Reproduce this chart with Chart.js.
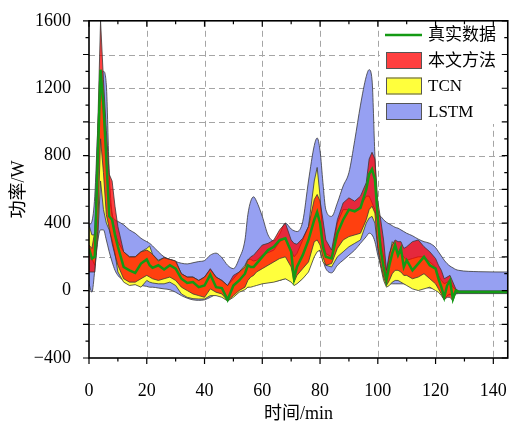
<!DOCTYPE html>
<html>
<head>
<meta charset="utf-8">
<script src="https://cdn.jsdelivr.net/npm/chart.js@4.4.1/dist/chart.umd.min.js"></script>
<style>
  html, body { margin: 0; padding: 0; background: #fff; }
  #wrap { width: 521px; height: 425px; }
</style>
</head>
<body>
<div id="wrap"><canvas id="chart" width="521" height="425"></canvas></div>
<script>
// ─── Data ────────────────────────────────────────
const seriesNames = ["真实数据", "本文方法", "TCN", "LSTM"];

const times = [
  0, 1, 2, 3, 4, 5, 6, 7, 8, 9, 10,
  12, 14, 16, 18, 20, 21, 22, 24, 26, 28, 30,
  32, 34, 36, 38, 40, 42, 44, 46, 48, 50,
  52, 54, 55, 56, 57, 58, 60, 62, 64, 66, 68, 70, 71, 72, 74,
  76, 78, 79, 80, 81, 82, 84, 86, 88, 90, 92, 94, 96, 97, 98, 99, 100,
  101, 102, 103, 104, 105, 106, 107, 108, 109, 110,
  112, 114, 116, 118, 120, 121, 122, 123, 124, 125, 126, 127, 128, 135, 145
];

const truePower = [
  250, 190, 200, 750, 1310, 1100, 780, 440, 420, 330, 260,
  140, 120, 105, 160, 185, 150, 135, 150, 125, 150, 130,
  70, 45, 50, 20, 30, 95, 20, 15, -55, 30,
  60, 100, 150, 140, 140, 160, 200, 240, 260, 300, 310, 230, 70, 140, 210,
  300, 420, 465, 400, 260, 200, 190, 340, 420, 480, 470, 490, 600, 690, 720, 660, 430,
  240, 140, 60, 150, 220, 270, 210, 250, 140, 180,
  120, 160, 200, 150, 130, 70, 20, -40, 30, 60, -50, 0, -8, -8, -8
];

// 本文方法 interval
const oursHigh = [
  270, 250, 350, 950, 1600, 1250, 950, 690, 650, 500, 380,
  230, 200, 200, 230, 240, 230, 215, 175, 195, 185, 175,
  100, 80, 80, 60, 80, 130, 80, 60, 30, 90,
  110, 140, 180, 200, 210, 230, 270, 280, 300, 360, 400, 300, 280, 275, 310,
  380, 540, 570, 530, 420, 300, 240, 420, 520, 550, 530, 560, 640, 780, 820, 780, 530,
  420, 300, 120, 220, 270, 300, 290, 290, 250, 260,
  290, 300, 260, 230, 190, 150, 120, 70, 80, 90, 50, 10, -3, -3, -3
];
const oursLow = [
  110, 110, 110, 350, 900, 700, 450, 370, 280, 210, 150,
  70, 50, 50, 70, 90, 80, 70, 60, 70, 80, 60,
  20, 0, -20, -30, -40, 10, -10, -20, -60, -30,
  0, 20, 60, 80, 90, 110, 130, 150, 170, 190, 200, 140, 50, 90, 130,
  170, 290, 300, 270, 200, 150, 160, 250, 300, 320, 330, 340, 420, 480, 500, 460, 260,
  160, 80, 30, 60, 100, 120, 120, 110, 90, 90,
  70, 80, 100, 70, 40, 10, -20, -55, -40, -40, -60, -15, -13, -13, -13
];

// TCN interval
const tcnHigh = [
  390, 330, 330, 750, 1250, 1050, 750, 560, 440, 340, 290,
  230, 200, 200, 230, 250, 265, 215, 180, 195, 185, 175,
  100, 80, 80, 60, 80, 125, 80, 60, 30, 70,
  110, 150, 185, 185, 175, 180, 210, 225, 240, 290, 310, 240, 200, 220, 300,
  380, 650, 730, 560, 300, 220, 200, 400, 480, 480, 470, 500, 560, 560, 520, 480, 400,
  290, 200, 100, 200, 290, 270, 230, 220, 200, 180,
  190, 200, 200, 170, 140, 90, 60, 40, 50, 60, 20, 5, -3, -3, -3
];
const tcnLow = [
  240, 190, 150, 300, 650, 480, 400, 360, 300, 220, 110,
  50, 30, 35, 20, 60, 50, 45, 40, 40, 50, 30,
  -20, -40, -48, -50, -50, -30, -30, -40, -62, -40,
  -10, 5, 20, 20, 25, 30, 40, 45, 50, 60, 70, 50, 30, 40, 70,
  110, 200, 230, 240, 170, 150, 140, 200, 230, 260, 280, 300, 400, 430, 440, 400, 250,
  140, 60, 20, 30, 50, 60, 60, 50, 40, 30,
  10, 0, 10, 20, 0, -10, -30, -55, -30, -20, -30, -15, -13, -13, -13
];

// LSTM interval
const lstmHigh = [
  390, 410, 560, 950, 1260, 1300, 1220, 700, 460, 420, 410,
  390, 360, 340, 310, 290, 280, 265, 230, 200, 185, 172,
  162, 158, 165, 172, 178, 210, 222, 195, 150, 130,
  190, 300, 450, 530, 556, 530, 440, 330, 295, 335, 400, 365, 355, 350, 410,
  650, 860, 905, 830, 640, 480, 440, 520, 620, 700, 890, 1100, 1270, 1310, 1250, 800, 470,
  440, 420, 405, 395, 385, 375, 370, 360, 350, 340,
  325, 305, 290, 280, 255, 230, 205, 180, 160, 145, 135, 125, 120, 112, 110
];
const lstmLow = [
  40, -10, 120, 290, 360, 360, 300, 230, 170, 120, 90,
  60, 45, 40, 30, 25, 20, 20, 15, 10, 5, -10,
  -30, -45, -55, -58, -55, -40, -25, -35, -55, -30,
  0, 10, 20, 25, 30, 35, 45, 50, 55, 60, 70, 55, 40, 45, 75,
  140, 240, 250, 230, 180, 130, 105, 150, 180, 210, 240, 280, 320, 340, 330, 290, 210,
  150, 90, 50, 40, 40, 40, 40, 40, 40, 35,
  30, 25, 20, 15, 10, 0, -10, -20, -25, -25, -25, -20, -18, -18, -18
];

const xTicks = [0, 20, 40, 60, 80, 100, 120, 140];
const yTicks = [-400, 0, 400, 800, 1200, 1600];

// ─── Style ───────────────────────────────────────
const FONT   = '"Liberation Serif", "Noto Sans CJK SC", serif';
const GREEN  = "#149a14";
const RED    = "rgba(255, 0, 0, 0.75)";
const YELLOW = "#ffff3c";
const BLUE   = "rgb(150, 160, 242)";
const EDGE   = "#383838";

const pts = (vals) => vals.map((v, i) => ({ x: times[i], y: v }));

function band(values, color, order, isLow, smooth) {
    return {
        data: pts(values),
        borderColor: EDGE,
        borderWidth: 0.8,
        backgroundColor: color,
        pointRadius: 0,
        fill: isLow ? "-1" : false,
        order: order,
        cubicInterpolationMode: smooth ? "monotone" : "default",
        tension: 0
    };
}

// ─────────────────────────────────────────────────
//  Frame, grid, inward/outward ticks, legend
// ─────────────────────────────────────────────────
const decor = {
    id: "decor",
    beforeDatasetsDraw(chart) {
        const { ctx, chartArea: a, scales: { x, y } } = chart;
        ctx.save();
        ctx.strokeStyle = "#a5a5a5";
        ctx.lineWidth = 1;
        ctx.setLineDash([6, 4]);
        ctx.beginPath();
        for (let v = 20; v <= 140; v += 20) {
            const px = Math.round(x.getPixelForValue(v)) + 0.5;
            ctx.moveTo(px, a.top); ctx.lineTo(px, a.bottom);
        }
        for (let v = -200; v <= 1400; v += 200) {
            const py = Math.round(y.getPixelForValue(v)) + 0.5;
            ctx.moveTo(a.left, py); ctx.lineTo(a.right, py);
        }
        ctx.stroke();
        ctx.restore();
    },
    afterDatasetsDraw(chart) {
        const { ctx, chartArea: a, scales: { x, y } } = chart;
        ctx.save();

        // legend
        ctx.fillStyle = "#fff";
        ctx.fillRect(380, 21, 131, 103);
        const lx = 386, lw = 36, rows = [35, 60.5, 86, 111.5];
        ctx.strokeStyle = GREEN; ctx.lineWidth = 2.5;
        ctx.beginPath(); ctx.moveTo(lx - 1, rows[0]); ctx.lineTo(lx + lw, rows[0]); ctx.stroke();
        [RED, YELLOW, BLUE].forEach((c, i) => {
            const cy = rows[i + 1];
            ctx.fillStyle = c;
            ctx.fillRect(lx, cy - 8.5, lw, 17);
            ctx.strokeStyle = "#555"; ctx.lineWidth = 1;
            ctx.strokeRect(lx + 0.5, cy - 8, lw - 1, 16);
        });
        ctx.fillStyle = "#000";
        ctx.font = "17px " + FONT;
        ctx.textBaseline = "middle";
        seriesNames.forEach((s, i) => ctx.fillText(s, 428, rows[i] + 1));

        // frame
        ctx.strokeStyle = "#000";
        ctx.lineWidth = 1.6;
        ctx.strokeRect(a.left, a.top, a.right - a.left, a.bottom - a.top);

        // ticks
        ctx.lineWidth = 1.2;
        ctx.beginPath();
        for (let v = 0; v <= 140; v += 10) {
            const px = x.getPixelForValue(v);
            const len = v % 20 === 0 ? 6 : 3.5;
            ctx.moveTo(px, a.bottom); ctx.lineTo(px, a.bottom + len);
            ctx.moveTo(px, a.top); ctx.lineTo(px, a.top + len);
        }
        for (let v = -400; v <= 1600; v += 100) {
            const py = y.getPixelForValue(v);
            const len = v % 200 === 0 ? 6 : 3.5;
            ctx.moveTo(a.left, py); ctx.lineTo(a.left - len, py);
            ctx.moveTo(a.right, py); ctx.lineTo(a.right - len, py);
        }
        ctx.stroke();
        ctx.restore();
    }
};

// ─────────────────────────────────────────────────
//  Chart
// ─────────────────────────────────────────────────
Chart.defaults.font.family = FONT;
Chart.defaults.color = "#000";

new Chart(document.getElementById("chart"), {
    type: "line",
    data: {
        datasets: [
            { label: seriesNames[0], data: pts(truePower), borderColor: GREEN, borderWidth: 2.5,
              pointRadius: 0, fill: false, order: 0, tension: 0 },
            band(oursHigh, RED, 1, false, false),
            band(oursLow, RED, 1, true, false),
            band(tcnHigh, YELLOW, 2, false, false),
            band(tcnLow, YELLOW, 2, true, false),
            band(lstmHigh, BLUE, 3, false, true),
            band(lstmLow, BLUE, 3, true, true)
        ]
    },
    options: {
        responsive: false,
        animation: false,
        devicePixelRatio: 1,
        events: [],
        layout: { padding: { top: 17, right: 5, left: 0, bottom: 0 } },
        plugins: { legend: { display: false }, tooltip: { enabled: false } },
        scales: {
            x: {
                type: "linear", min: 0, max: 145,
                afterBuildTicks: s => { s.ticks = xTicks.map(v => ({ value: v })); },
                afterFit: s => { s.height = 67; },
                grid: { display: false }, border: { display: false },
                ticks: { autoSkip: false, maxRotation: 0, minRotation: 0, padding: 14, font: { size: 18 } },
                title: { display: true, text: "时间/min", font: { size: 18 }, padding: { top: 0, bottom: 0 } }
            },
            y: {
                type: "linear", min: -400, max: 1600,
                afterBuildTicks: s => { s.ticks = yTicks.map(v => ({ value: v })); },
                afterFit: s => { s.width = 89; },
                grid: { display: false }, border: { display: false },
                ticks: { autoSkip: false, padding: 10, font: { size: 18 },
                         callback: v => v < 0 ? "\u2212" + (-v) : String(v) },
                title: { display: true, text: "功率/W", font: { size: 18 }, padding: { top: 8, bottom: 0 } }
            }
        }
    },
    plugins: [decor]
});
</script>
</body>
</html>
